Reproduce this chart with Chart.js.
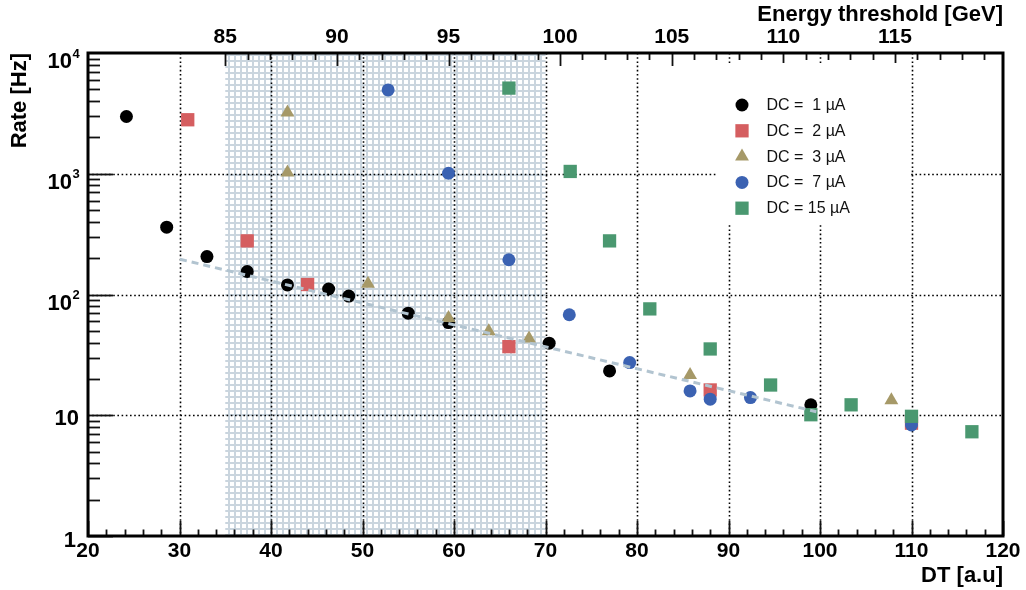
<!DOCTYPE html>
<html>
<head>
<meta charset="utf-8">
<script src="https://cdn.jsdelivr.net/npm/chart.js@4.4.1/dist/chart.umd.min.js"></script>
<style>
  html, body { margin: 0; padding: 0; background: #fff; }
</style>
</head>
<body>
<canvas id="rate-chart" width="1026" height="590"></canvas>
<script>
// DT [a.u] vs rate [Hz], one pair of arrays per dark current
const dc1X = [24.2, 28.6, 33.0, 37.4, 41.8, 46.3, 48.5, 55.0, 59.4, 70.4, 77.0, 99.0];
const dc1Y = [2980, 361, 206, 155, 120, 111, 97, 70, 58.5, 39.5, 23.3, 12.2];
const dc2X = [30.9, 37.4, 44.0, 66.0, 88.0, 110.0];
const dc2Y = [2800, 278, 121, 37, 16.2, 8.6];
const dc3X = [41.8, 41.8, 50.6, 59.4, 63.8, 68.2, 85.8, 107.8];
const dc3Y = [3220, 1025, 123, 64, 49.7, 43.2, 21.5, 13.3];
const dc7X = [52.8, 59.4, 66.0, 72.6, 79.2, 85.8, 88.0, 92.4, 110.0];
const dc7Y = [4950, 1010, 194, 68, 27.3, 15.9, 13.6, 14.0, 8.3];
const dc15X = [66.0, 72.7, 77.0, 81.4, 88.0, 94.6, 99.0, 103.4, 110.0, 116.6];
const dc15Y = [5120, 1045, 278, 76, 35.4, 17.8, 10.1, 12.2, 9.8, 7.3];

// exponential fit (straight on log axis)
const fitX = [30.05, 99.6];
const fitY = [196, 10.7];

const dcLabels = ['DC =  1 \u00b5A', 'DC =  2 \u00b5A', 'DC =  3 \u00b5A', 'DC =  7 \u00b5A', 'DC = 15 \u00b5A'];

// hatched DT window
const shadeRange = [35, 70];

// axes
const dtMin = 20, dtMax = 120;
const dtMajor = [20, 30, 40, 50, 60, 70, 80, 90, 100, 110, 120];
const energyMin = 78.85, energyMax = 119.84;
const energyMajor = [85, 90, 95, 100, 105, 110, 115];
const yTickVals = [1, 10, 100, 1000, 10000];
const yTickBase = ['1', '10', '10', '10', '10'];
const yTickExp = ['', '', '2', '3', '4'];

const colors = {
  black: '#000000',
  red: 'rgb(213, 94, 96)',
  olive: 'rgb(166, 153, 104)',
  blue: 'rgb(59, 98, 178)',
  green: 'rgb(74, 152, 112)',
  fit: 'rgb(178, 196, 208)'
};

const FONT = 'Liberation Sans, Arial, Helvetica, sans-serif';

function pts(xs, ys) {
  return xs.map((x, i) => ({ x: x, y: ys[i] }));
}

function makeHatch(ctx) {
  const c = document.createElement('canvas');
  c.width = 6; c.height = 6;
  const g = c.getContext('2d');
  g.fillStyle = '#ffffff';
  g.fillRect(0, 0, 6, 6);
  g.fillStyle = 'rgb(202, 213, 222)';
  g.fillRect(0, 0, 2, 6);
  g.fillRect(0, 0, 6, 2);
  return ctx.createPattern(c, 'repeat');
}

function seg(ctx, x1, y1, x2, y2) {
  ctx.beginPath();
  ctx.moveTo(x1, y1);
  ctx.lineTo(x2, y2);
  ctx.stroke();
}

const framePlugin = {
  id: 'frame',
  beforeDraw(chart) {
    const ctx = chart.ctx;
    ctx.save();
    ctx.fillStyle = '#fff';
    ctx.fillRect(0, 0, chart.width, chart.height);
    ctx.restore();
  },
  beforeDatasetsDraw(chart) {
    const { ctx, chartArea: a, scales } = chart;
    const xs = scales.x, ys = scales.y, es = scales.xE;
    ctx.save();

    // hatched window
    const hx1 = xs.getPixelForValue(shadeRange[0]);
    const hx2 = xs.getPixelForValue(shadeRange[1]);
    ctx.fillStyle = makeHatch(ctx);
    ctx.fillRect(hx1, a.top, hx2 - hx1, a.bottom - a.top);

    // dotted grid
    ctx.strokeStyle = '#000';
    ctx.lineWidth = 1.6;
    ctx.setLineDash([1.6, 2.6]);
    dtMajor.slice(1, -1).forEach(v => {
      const px = Math.round(xs.getPixelForValue(v)) + 0.5;
      seg(ctx, px, a.top, px, a.bottom);
    });
    yTickVals.slice(1, -1).forEach(v => {
      const py = Math.round(ys.getPixelForValue(v)) + 0.5;
      seg(ctx, a.left, py, a.right, py);
    });
    ctx.setLineDash([]);

    // bottom ticks
    ctx.lineWidth = 1.8;
    ctx.strokeStyle = '#111';
    for (let v = dtMin; v <= dtMax; v += 2) {
      const px = Math.round(xs.getPixelForValue(v)) + 0.5;
      const len = v % 10 === 0 ? 15 : 6.5;
      seg(ctx, px, a.bottom, px, a.bottom - len);
    }
    // top (energy) ticks
    for (let v = energyMajor[0]; v <= Math.floor(energyMax); v += 1) {
      const px = Math.round(es.getPixelForValue(v)) + 0.5;
      const len = v % 5 === 0 ? 13 : 7;
      seg(ctx, px, a.top, px, a.top + len);
    }
    // left ticks (log)
    for (let d = 1; d < 10000; d *= 10) {
      for (let m = 1; m <= 9; m++) {
        const py = Math.round(ys.getPixelForValue(d * m)) + 0.5;
        const len = m === 1 ? 25 : 12;
        seg(ctx, a.left, py, a.left + len, py);
      }
    }

    // frame
    ctx.lineWidth = 3;
    ctx.strokeStyle = '#000';
    ctx.strokeRect(a.left, a.top, a.right - a.left, a.bottom - a.top);

    // y tick labels with exponents
    ctx.fillStyle = '#000';
    ctx.textBaseline = 'alphabetic';
    ctx.textAlign = 'right';
    yTickVals.forEach((v, i) => {
      const py = ys.getPixelForValue(v);
      ctx.font = 'bold 22px ' + FONT;
      ctx.textAlign = 'right';
      if (yTickExp[i]) {
        ctx.fillText(yTickBase[i], 72, py + 15);
        ctx.font = 'bold 13px ' + FONT;
        ctx.textAlign = 'left';
        ctx.fillText(yTickExp[i], 72.5, py + 4.5);
      } else if (yTickBase[i] === '10') {
        ctx.fillText(yTickBase[i], 79, py + 9.6);
      } else {
        ctx.fillText(yTickBase[i], 76, py + 10.8);
      }
    });
    ctx.restore();
  },
  afterDatasetsDraw(chart) {
    const ctx = chart.ctx;
    ctx.save();
    // legend, white box without border
    ctx.fillStyle = '#fff';
    ctx.fillRect(718, 63, 192, 162);
    chart.data.datasets.slice(1).forEach((ds, i) => {
      const y = 105 + i * 25.8;
      ctx.fillStyle = ds.backgroundColor;
      ctx.strokeStyle = ds.backgroundColor;
      Chart.helpers.drawPoint(ctx, {
        pointStyle: ds.pointStyle,
        radius: ds.pointRadius,
        rotation: 0,
        borderWidth: 0
      }, 742, y);
      ctx.fillStyle = '#111';
      ctx.font = '16px ' + FONT;
      ctx.textAlign = 'left';
      ctx.textBaseline = 'middle';
      ctx.fillText(ds.label, 766.5, y + 0.5);
    });
    ctx.restore();
  }
};

function markerSet(label, xs, ys, color, style, radius, order) {
  return {
    label: label,
    data: pts(xs, ys),
    backgroundColor: color,
    borderColor: color,
    borderWidth: 0,
    pointStyle: style,
    pointRadius: radius,
    pointHoverRadius: radius,
    order: order
  };
}

const tickFont = { family: FONT, size: 21, weight: 'bold' };
const titleFont = { family: FONT, size: 22, weight: 'bold' };

const ctx = document.getElementById('rate-chart').getContext('2d');

new Chart(ctx, {
  type: 'scatter',
  data: {
    datasets: [
      {
        label: 'fit',
        type: 'line',
        data: pts(fitX, fitY),
        borderColor: colors.fit,
        borderWidth: 3,
        borderDash: [7, 5],
        pointRadius: 0,
        fill: false,
        showLine: true,
        order: 0
      },
      // higher order is drawn first, so green ends on top like the original
      markerSet(dcLabels[0], dc1X, dc1Y, colors.black, 'circle', 6.5, 5),
      markerSet(dcLabels[1], dc2X, dc2Y, colors.red, 'rect', 9.4, 4),
      markerSet(dcLabels[2], dc3X, dc3Y, colors.olive, 'triangle', 8, 3),
      markerSet(dcLabels[3], dc7X, dc7Y, colors.blue, 'circle', 6.5, 2),
      markerSet(dcLabels[4], dc15X, dc15Y, colors.green, 'rect', 9.4, 1)
    ]
  },
  options: {
    responsive: false,
    animation: false,
    devicePixelRatio: 1,
    layout: { padding: { left: 0, right: 23, top: 0, bottom: 0 } },
    plugins: {
      legend: { display: false },
      tooltip: { enabled: false }
    },
    scales: {
      x: {
        type: 'linear',
        position: 'bottom',
        min: dtMin,
        max: dtMax,
        afterBuildTicks: s => { s.ticks = dtMajor.map(v => ({ value: v })); },
        ticks: { font: tickFont, color: '#000', padding: 2.4, maxRotation: 0, autoSkip: false },
        grid: { display: false, drawTicks: false },
        border: { display: false },
        title: { display: true, text: 'DT [a.u]', align: 'end', color: '#000', font: titleFont, padding: { top: 0, bottom: 1 } },
        afterFit: s => { s.height = 54; }
      },
      xE: {
        type: 'linear',
        position: 'top',
        min: energyMin,
        max: energyMax,
        afterBuildTicks: s => { s.ticks = energyMajor.map(v => ({ value: v })); },
        ticks: { font: tickFont, color: '#000', padding: 3.2, maxRotation: 0, autoSkip: false },
        grid: { display: false, drawTicks: false },
        border: { display: false },
        title: { display: true, text: 'Energy threshold [GeV]', align: 'end', color: '#000', font: titleFont, padding: { top: 2, bottom: 0 } },
        afterFit: s => { s.height = 53; }
      },
      y: {
        type: 'logarithmic',
        min: 1,
        max: 10000,
        ticks: { display: false },
        grid: { display: false },
        border: { display: false },
        title: { display: true, text: 'Rate [Hz]', align: 'end', color: '#000', font: titleFont, padding: { top: 7, bottom: 0 } },
        afterFit: s => { s.width = 88; }
      }
    }
  },
  plugins: [framePlugin]
});
</script>
</body>
</html>
